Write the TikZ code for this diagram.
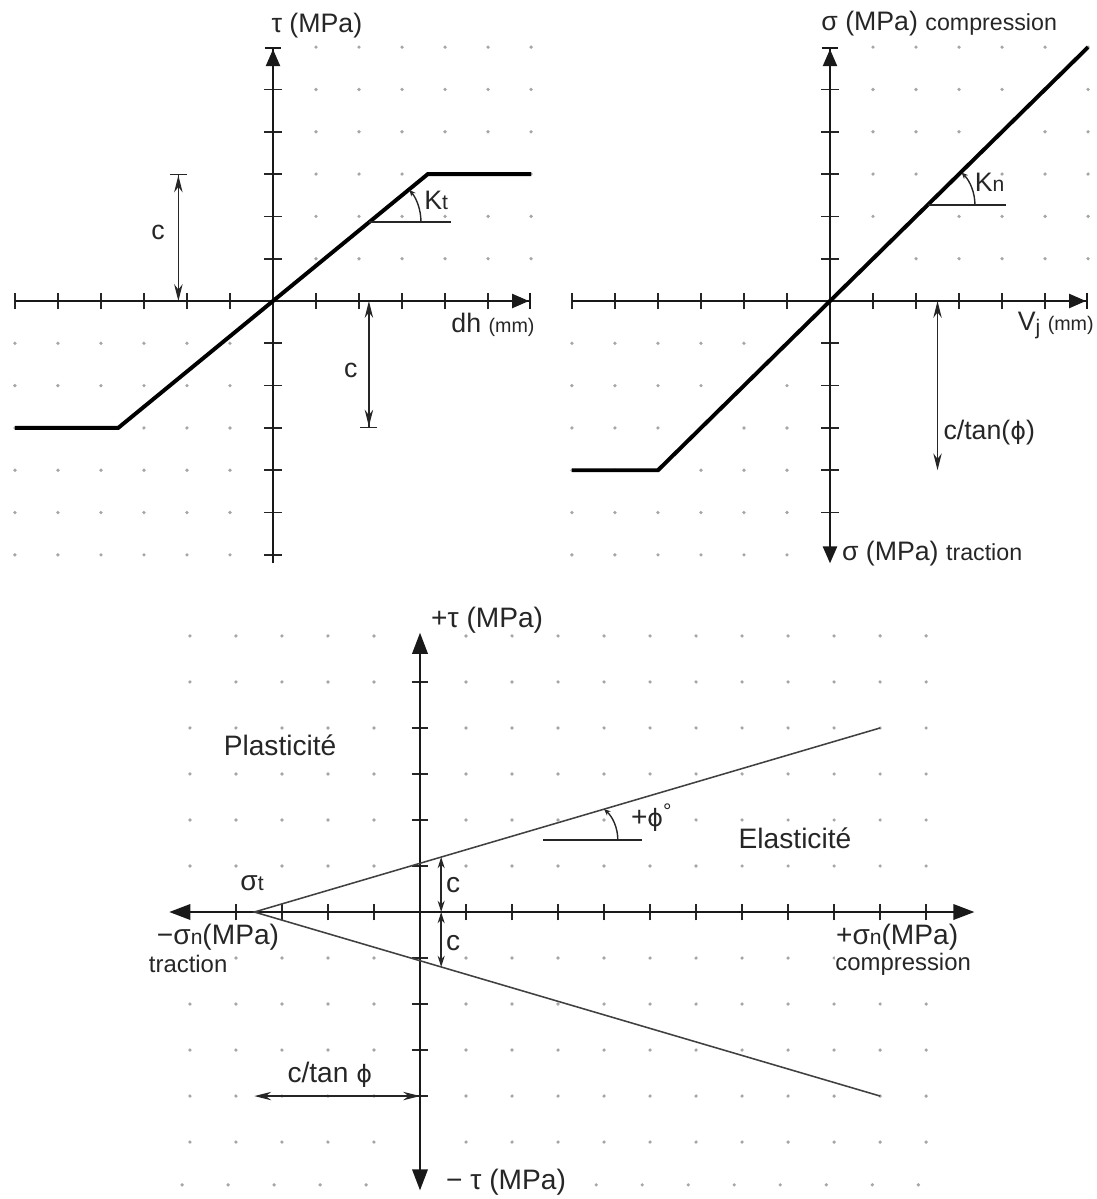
\documentclass[tikz,border=0pt]{standalone}
\usepackage{fontspec}
\setmainfont{Liberation Sans}
\newfontfamily\grk{DejaVu Sans}
\usetikzlibrary{arrows.meta, positioning, calc}

\newcommand{\subsz}{\fontsize{15}{18}\selectfont}
\newcommand{\midsz}{\fontsize{16.5}{20}\selectfont}
\newcommand{\mmsz}{\fontsize{14}{17}\selectfont}
\newcommand{\phig}{{\grk\fontsize{17}{20}\selectfont ϕ}}

\begin{document}
\begin{tikzpicture}[
    x=0.025cm, y=-0.025cm,
    axis/.style={line width=1.5pt, black!90},
    law/.style={line width=2.8pt, black},
    crit/.style={line width=1.1pt, black!75},
    tickmark/.style={line width=1.2pt, black!85},
    thinline/.style={line width=1pt, black!85},
    gdot/.style={fill=black!35},
    lbl/.style={font=\fontsize{19}{23}\selectfont, text=black!85, inner sep=1pt},
    blbl/.style={font=\fontsize{20}{24}\selectfont, text=black!85, inner sep=1pt},
    barend/.style={-{Triangle[length=12pt,width=10pt] Bar[width=12pt]}},
    bigend/.style={{Triangle[length=15pt,width=11pt]}-{Triangle[length=15pt,width=11pt]}},
    dims/.style={thinline, {Stealth[length=12pt,width=6pt]}-{Stealth[length=12pt,width=6pt]}},
    dimbar/.style={thinline, {Stealth[length=12pt,width=6pt]}-{Stealth[length=12pt,width=6pt] Bar[width=12pt]}},
    sdims/.style={thinline, {Stealth[length=8pt,width=5pt]}-{Stealth[length=8pt,width=5pt]}},
    anglearc/.style={thinline, -{Stealth[length=4.5pt,width=4pt]}}
]
\useasboundingbox (0,0) rectangle (1097,1199);

% ---------- tau versus dh ----------
\begin{scope}[shift={(273,301)}, x=1.075cm, y=1.0575cm]
  \foreach \i in {1,...,6}
    \foreach \j in {1,...,6} {
      \fill[gdot] (\i,\j) circle (1.3pt);
      \fill[gdot] (-\i,-\j) circle (1.3pt);
    }
  \foreach \i in {-6,-5,-4,-3,-2,-1,1,2,3,4,5}
    \draw[tickmark] (\i,-0.2) -- (\i,0.2);
  \foreach \j in {-6,-5,-4,-3,-2,-1,1,2,3,4,5}
    \draw[tickmark] (-0.2,\j) -- (0.2,\j);

  \coordinate (tlW) at (-6,0);
  \coordinate (tlE) at (6,0);
  \coordinate (tlS) at (0,-6.2);
  \coordinate (tlN) at (0,6);
  \draw[axis, barend] (tlW) -- (tlE);
  \draw[axis, barend] (tlS) -- (tlN);

  \coordinate (tlO) at (0,0);
  \coordinate (tlA) at (-6,-3);
  \coordinate (tlB) at (-3.6,-3);
  \coordinate (tlC) at (3.6,3);
  \coordinate (tlD) at (6,3);
  \draw[law] (tlA) -- (tlB) -- (tlO) -- (tlC) -- (tlD);

  % slope Kt
  \coordinate (kt0) at (2.24,1.87);
  \coordinate (kt1) at (4.14,1.87);
  \draw[thinline] (kt0) -- (kt1);
  \draw[anglearc] ($(kt0)+(1.2,0)$) arc[start angle=0, end angle=39, radius=1.2];
  \node[lbl, anchor=west] (kt) at (3.48,2.38) {K{\subsz t}};

  % cohesion
  \coordinate (cl0) at (-2.2,0);
  \coordinate (cl1) at (-2.2,3);
  \draw[dimbar] (cl0) -- (cl1);
  \coordinate (cr0) at (2.23,0);
  \coordinate (cr1) at (2.23,-3);
  \draw[dimbar] (cr0) -- (cr1);
  \node[lbl] (cL) at (-2.67,1.63) {c};
  \node[lbl] (cR) at (1.81,-1.64) {c};

  \node[lbl] (tauT) at (1.02,6.52) {τ (MPa)};
  \node[lbl, anchor=east] (dh) at (6.12,-0.57) {dh {\mmsz (mm)}};
\end{scope}

% ---------- sigma versus Vj ----------
\begin{scope}[shift={(830,301)}, x=1.075cm, y=1.0575cm]
  \foreach \i in {1,...,6}
    \foreach \j in {1,...,6} {
      \fill[gdot] (\i,\j) circle (1.3pt);
      \fill[gdot] (-\i,-\j) circle (1.3pt);
    }
  \foreach \i in {-6,-5,-4,-3,-2,-1,1,2,3,4,5}
    \draw[tickmark] (\i,-0.2) -- (\i,0.2);
  \foreach \j in {-5,-4,-3,-2,-1,1,2,3,4,5}
    \draw[tickmark] (-0.2,\j) -- (0.2,\j);

  \coordinate (trW) at (-6,0);
  \coordinate (trE) at (6,0);
  \coordinate (trS) at (0,-6.2);
  \coordinate (trN) at (0,6);
  \coordinate (trO) at (0,0);
  \draw[axis, barend] (trW) -- (trE);
  \draw[axis, -{Triangle[length=12pt,width=10pt]}] (trO) -- (trS);
  \draw[axis, barend] (trO) -- (trN);

  \coordinate (trA) at (-6,-4);
  \coordinate (trB) at (-4,-4);
  \coordinate (trC) at (6,6);
  \draw[law] (trA) -- (trB) -- (trC);

  % slope Kn
  \coordinate (kn0) at (2.27,2.27);
  \coordinate (kn1) at (4.1,2.27);
  \draw[thinline] (kn0) -- (kn1);
  \draw[anglearc] ($(kn0)+(1.1,0)$) arc[start angle=0, end angle=44, radius=1.1];
  \node[lbl, anchor=west] (kn) at (3.33,2.8) {K{\subsz n}};

  % tensile limit
  \coordinate (ct0) at (2.5,0);
  \coordinate (ct1) at (2.5,-4);
  \draw[dims] (ct0) -- (ct1);
  \node[lbl, anchor=west] (ctan) at (2.6,-3.1) {c/tan(\phig)};

  \node[lbl, anchor=west] (sigC) at (-0.24,6.56) {σ (MPa) {\midsz compression}};
  \node[lbl, anchor=west] (sigT) at (0.24,-5.96) {σ (MPa) {\midsz traction}};
  \node[lbl, anchor=east] (vj) at (6.17,-0.57) {V\raisebox{-0.3ex}{\subsz j} {\mmsz (mm)}};
\end{scope}

% ---------- Mohr-Coulomb criterion ----------
\begin{scope}[shift={(420,912)}, x=1.15cm, y=1.15cm]
  \foreach \i in {-5,...,11}
    \foreach \j in {-5,...,6} {
      \ifnum\i=0 \else \ifnum\j=0 \else
        \fill[gdot] (\i,\j) circle (1.3pt);
      \fi\fi
    }
  \foreach \k in {0,1,2,3,4,9,10,11,12,13,14,15,16}
    \fill[gdot] ({\k-5.17},-5.93) circle (1.3pt);
  \foreach \i in {-4,-3,-2,-1,1,2,3,4,5,6,7,8,9,10,11}
    \draw[tickmark] (\i,-0.18) -- (\i,0.18);
  \foreach \j in {-4,-3,-2,-1,1,2,3,4,5}
    \draw[tickmark] (-0.18,\j) -- (0.18,\j);

  \coordinate (bW) at (-5.45,0);
  \coordinate (bE) at (12.05,0);
  \coordinate (bS) at (0,-6.05);
  \coordinate (bN) at (0,6.07);
  \draw[axis, bigend] (bW) -- (bE);
  \draw[axis, bigend] (bS) -- (bN);

  \coordinate (sT) at (-3.6,0);
  \coordinate (up) at (10,4);
  \coordinate (lo) at (10,-4);
  \draw[crit] (up) -- (sT) -- (lo);

  % cohesion on both branches
  \coordinate (cA) at (0.46,0);
  \coordinate (cB) at (0.46,1.195);
  \coordinate (cC) at (0.46,-1.195);
  \draw[sdims] (cA) -- (cB);
  \draw[sdims] (cA) -- (cC);
  \node[blbl] (cUp) at (0.72,0.58) {c};
  \node[blbl] (cLo) at (0.72,-0.68) {c};

  % friction angle
  \coordinate (ph0) at (3.4,1.565);
  \coordinate (ph1) at (2.67,1.565);
  \coordinate (ph2) at (4.83,1.565);
  \draw[thinline] (ph1) -- (ph2);
  \draw[anglearc] ($(ph0)+(0.9,0)$) arc[start angle=0, end angle=48, radius=0.9];
  \node[blbl, anchor=west] (phi) at (4.55,2.05) {+\phig\raisebox{0.55ex}{\subsz °}};

  % c / tan phi
  \coordinate (ctA) at (-3.6,-4);
  \coordinate (ctB) at (0,-4);
  \draw[thinline, {Stealth[length=12pt,width=6pt]}-{Stealth[length=12pt,width=6pt]}] (ctA) -- (ctB);
  \node[blbl] (ctLbl) at (-1.96,-3.54) {c/tan \phig};

  \node[blbl] (tauP) at (1.46,6.35) {+τ (MPa)};
  \node[blbl] (tauM) at (1.87,-5.87) {− τ (MPa)};
  \node[blbl] (sigt) at (-3.65,0.63) {σ{\subsz t}};
  \node[blbl, fill=white, inner sep=0pt] (snM) at (-4.39,-0.55) {−σ{\subsz n}(MPa)};
  \node[blbl, fill=white, inner sep=0pt, font=\fontsize{17}{20}\selectfont] (trac) at (-5.04,-1.13) {traction};
  \node[blbl, fill=white, inner sep=0pt] (snP) at (10.37,-0.55) {+σ{\subsz n}(MPa)};
  \node[blbl, fill=white, inner sep=0pt, font=\fontsize{17}{20}\selectfont] (comp) at (10.5,-1.13) {compression};
  \node[blbl] (plas) at (-3.04,3.63) {Plasticité};
  \node[blbl] (elas) at (8.15,1.6) {Elasticité};
\end{scope}
\end{tikzpicture}
\end{document}
